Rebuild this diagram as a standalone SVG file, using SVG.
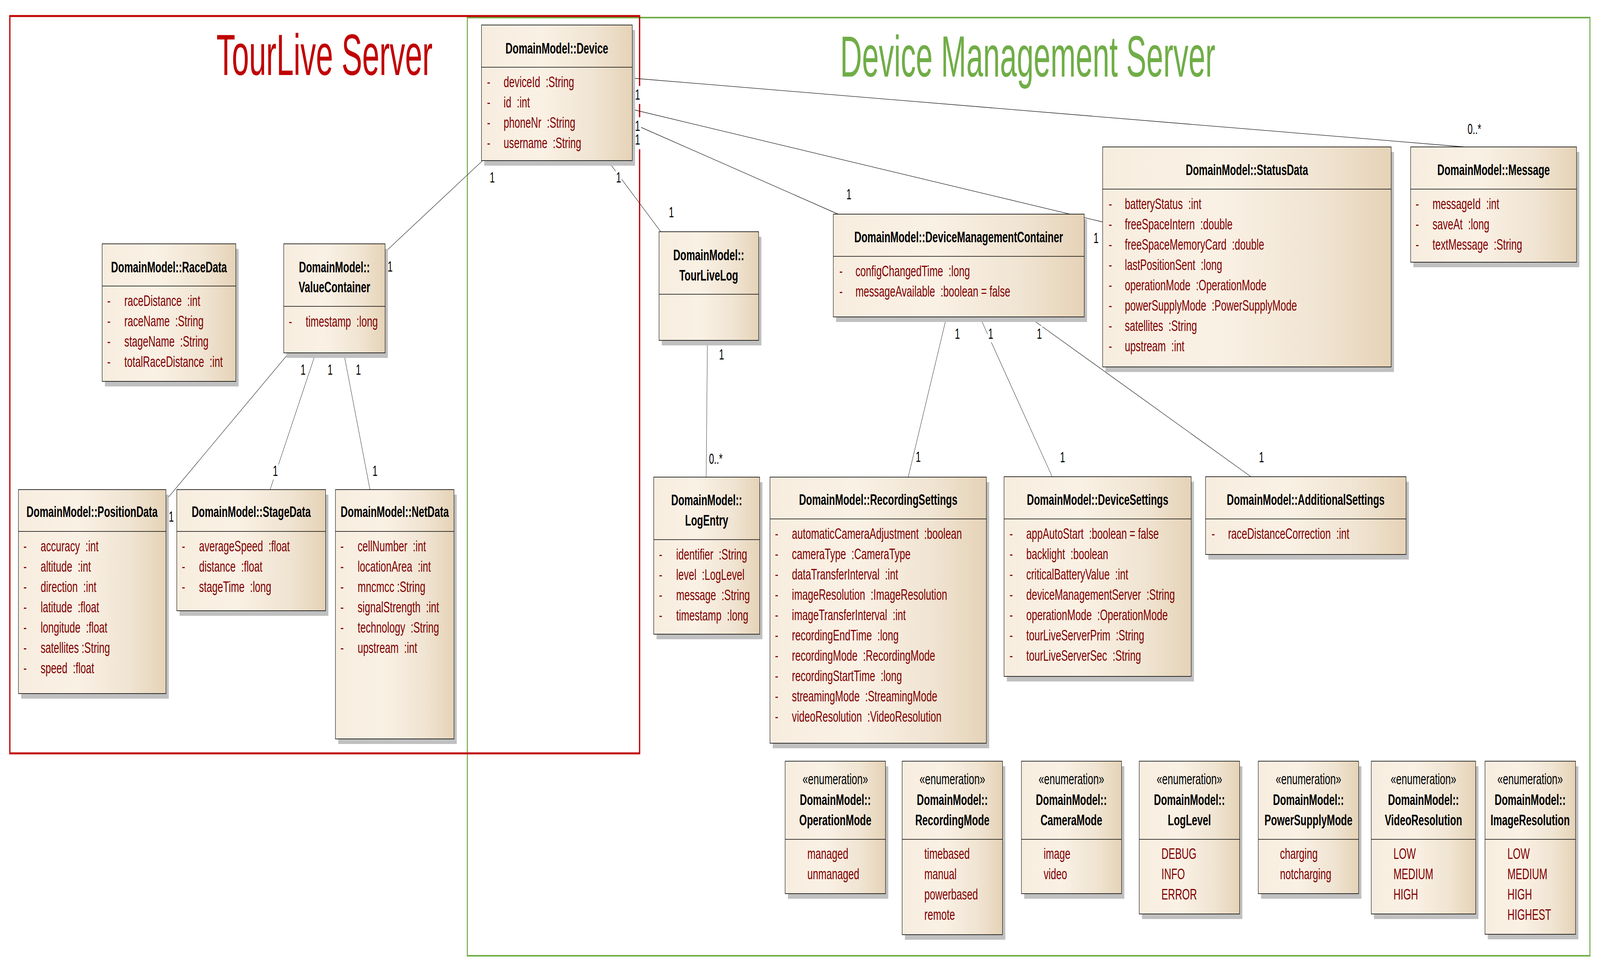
<svg xmlns="http://www.w3.org/2000/svg" width="6344" height="2508" viewBox="0 0 6344 2508" preserveAspectRatio="none">
<defs>
<linearGradient id="g" x1="0" y1="0" x2="1" y2="0">
<stop offset="0" stop-color="#F7EDDF"/>
<stop offset="0.4" stop-color="#FAF1E5"/>
<stop offset="0.75" stop-color="#F0E4D2"/>
<stop offset="1" stop-color="#E5D3B7"/>
</linearGradient>
<style>
svg{width:100%;height:100%}
.sh{fill:#C0C0C0}
.box{fill:url(#g);stroke:#000;stroke-width:1.6}
.sep{stroke:#000;stroke-width:1.6}
text{font-family:"Liberation Sans",Arial,sans-serif;font-size:39px}
.t{font-weight:bold;fill:#000;text-anchor:middle}
.st{fill:#000;text-anchor:middle}
.a{fill:#800000}
.lb{font-size:36px;fill:#000}
.lbg{fill:#fff}
.c{stroke:#1a1a1a;stroke-width:1.3;fill:none}
.big{font-size:148px}
</style>
</defs>
<rect width="6344" height="2508" fill="#fff"/>

<g id="frames">
<rect x="1853" y="45" width="4451" height="2401" fill="none" stroke="#70AD47" stroke-width="4"/>
<rect x="39" y="41" width="2497" height="1887" fill="none" stroke="#C00000" stroke-width="5"/>
<text class="big" x="858" y="192" fill="#C00000" textLength="857" lengthAdjust="spacingAndGlyphs">TourLive Server</text>
<text class="big" x="3331" y="196" fill="#70AD47" textLength="1488" lengthAdjust="spacingAndGlyphs">Device Management Server</text>
</g>

<g id="connectors">
<line class="c" x1="1912" y1="412" x2="1527" y2="645"/>
<line class="c" x1="1146" y1="903" x2="658" y2="1280"/>
<line class="c" x1="1252" y1="903" x2="1071" y2="1253"/>
<line class="c" x1="1363" y1="903" x2="1467" y2="1253"/>
<line class="c" x1="2411" y1="412" x2="2620" y2="593"/>
<line class="c" x1="2805" y1="871" x2="2800" y2="1221"/>
<line class="c" x1="2507" y1="200" x2="5807" y2="376"/>
<line class="c" x1="2507" y1="280" x2="4372" y2="568"/>
<line class="c" x1="2507" y1="316" x2="3323" y2="548"/>
<line class="c" x1="3753" y1="811" x2="3601" y2="1221"/>
<line class="c" x1="3885" y1="811" x2="4172" y2="1220"/>
<line class="c" x1="4079" y1="811" x2="4960" y2="1220"/>
</g>

<g id="labels">
<rect class="lbg" x="1940" y="434" width="24" height="42"/><text class="lb" x="1942" y="467">1</text>
<rect class="lbg" x="1535" y="662" width="24" height="42"/><text class="lb" x="1537" y="695">1</text>
<rect class="lbg" x="1190" y="926" width="24" height="42"/><text class="lb" x="1192" y="959">1</text>
<rect class="lbg" x="1297" y="926" width="24" height="42"/><text class="lb" x="1299" y="959">1</text>
<rect class="lbg" x="1409" y="926" width="24" height="42"/><text class="lb" x="1411" y="959">1</text>
<rect class="lbg" x="667" y="1302" width="24" height="42"/><text class="lb" x="669" y="1335">1</text>
<rect class="lbg" x="1080" y="1185" width="24" height="42"/><text class="lb" x="1082" y="1218">1</text>
<rect class="lbg" x="1475" y="1185" width="24" height="42"/><text class="lb" x="1477" y="1218">1</text>
<rect class="lbg" x="2441" y="434" width="24" height="42"/><text class="lb" x="2443" y="467">1</text>
<rect class="lbg" x="2650" y="523" width="24" height="42"/><text class="lb" x="2652" y="556">1</text>
<rect class="lbg" x="2849" y="887" width="24" height="42"/><text class="lb" x="2851" y="920">1</text>
<rect class="lbg" x="2809" y="1154" width="62" height="42"/><text class="lb" x="2811" y="1187">0..*</text>
<rect class="lbg" x="2515" y="220" width="27" height="46"/><text class="lb" x="2518" y="255">1</text>
<rect class="lbg" x="2515" y="300" width="27" height="46"/><text class="lb" x="2518" y="335">1</text>
<rect class="lbg" x="2515" y="336" width="27" height="46"/><text class="lb" x="2518" y="370">1</text>
<rect class="lbg" x="3354" y="477" width="24" height="42"/><text class="lb" x="3356" y="510">1</text>
<rect class="lbg" x="4334" y="589" width="24" height="42"/><text class="lb" x="4336" y="622">1</text>
<rect class="lbg" x="5817" y="310" width="62" height="42"/><text class="lb" x="5819" y="343">0..*</text>
<rect class="lbg" x="3784" y="834" width="24" height="42"/><text class="lb" x="3786" y="867">1</text>
<rect class="lbg" x="3916" y="834" width="24" height="42"/><text class="lb" x="3918" y="867">1</text>
<rect class="lbg" x="4109" y="834" width="24" height="42"/><text class="lb" x="4111" y="867">1</text>
<rect class="lbg" x="3629" y="1149" width="24" height="42"/><text class="lb" x="3631" y="1182">1</text>
<rect class="lbg" x="4201" y="1150" width="24" height="42"/><text class="lb" x="4203" y="1183">1</text>
<rect class="lbg" x="4990" y="1150" width="24" height="42"/><text class="lb" x="4992" y="1183">1</text>
</g>

<g id="Device">
<rect class="sh" x="1920" y="77" width="598" height="347"/>
<rect class="box" x="1909" y="64" width="598" height="347"/>
<line class="sep" x1="1909" y1="172" x2="2507" y2="172"/>
<text class="t" x="2208" y="137">DomainModel::Device</text>
<text class="a" x="1931" y="223">-</text><text class="a" x="1997" y="223">deviceId&#160; :String</text>
<text class="a" x="1931" y="275">-</text><text class="a" x="1997" y="275">id&#160; :int</text>
<text class="a" x="1931" y="327">-</text><text class="a" x="1997" y="327">phoneNr&#160; :String</text>
<text class="a" x="1931" y="379">-</text><text class="a" x="1997" y="379">username&#160; :String</text>
</g>

<g id="RaceData">
<rect class="sh" x="416" y="637" width="530" height="352"/>
<rect class="box" x="405" y="624" width="530" height="352"/>
<line class="sep" x1="405" y1="732" x2="935" y2="732"/>
<text class="t" x="670" y="697">DomainModel::RaceData</text>
<text class="a" x="425" y="783">-</text><text class="a" x="493" y="783">raceDistance&#160; :int</text>
<text class="a" x="425" y="835">-</text><text class="a" x="493" y="835">raceName&#160; :String</text>
<text class="a" x="425" y="887">-</text><text class="a" x="493" y="887">stageName&#160; :String</text>
<text class="a" x="425" y="939">-</text><text class="a" x="493" y="939">totalRaceDistance&#160; :int</text>
</g>

<g id="ValueContainer">
<rect class="sh" x="1136" y="637" width="402" height="279"/>
<rect class="box" x="1125" y="624" width="402" height="279"/>
<line class="sep" x1="1125" y1="784" x2="1527" y2="784"/>
<text class="t" x="1326" y="697">DomainModel::</text>
<text class="t" x="1326" y="748">ValueContainer</text>
<text class="a" x="1145" y="836">-</text><text class="a" x="1212" y="836">timestamp&#160; :long</text>
</g>

<g id="PositionData">
<rect class="sh" x="84" y="1266" width="585" height="522"/>
<rect class="box" x="73" y="1253" width="585" height="522"/>
<line class="sep" x1="73" y1="1360" x2="658" y2="1360"/>
<text class="t" x="365" y="1323">DomainModel::PositionData</text>
<text class="a" x="93" y="1411">-</text><text class="a" x="161" y="1411">accuracy&#160; :int</text>
<text class="a" x="93" y="1463">-</text><text class="a" x="161" y="1463">altitude&#160; :int</text>
<text class="a" x="93" y="1515">-</text><text class="a" x="161" y="1515">direction&#160; :int</text>
<text class="a" x="93" y="1567">-</text><text class="a" x="161" y="1567">latitude&#160; :float</text>
<text class="a" x="93" y="1619">-</text><text class="a" x="161" y="1619">longitude&#160; :float</text>
<text class="a" x="93" y="1671">-</text><text class="a" x="161" y="1671">satellites :String</text>
<text class="a" x="93" y="1723">-</text><text class="a" x="161" y="1723">speed&#160; :float</text>
</g>

<g id="StageData">
<rect class="sh" x="712" y="1266" width="590" height="310"/>
<rect class="box" x="701" y="1253" width="590" height="310"/>
<line class="sep" x1="701" y1="1360" x2="1291" y2="1360"/>
<text class="t" x="996" y="1323">DomainModel::StageData</text>
<text class="a" x="721" y="1411">-</text><text class="a" x="789" y="1411">averageSpeed&#160; :float</text>
<text class="a" x="721" y="1463">-</text><text class="a" x="789" y="1463">distance&#160; :float</text>
<text class="a" x="721" y="1515">-</text><text class="a" x="789" y="1515">stageTime&#160; :long</text>
</g>

<g id="NetData">
<rect class="sh" x="1341" y="1266" width="470" height="638"/>
<rect class="box" x="1330" y="1253" width="470" height="638"/>
<line class="sep" x1="1330" y1="1360" x2="1800" y2="1360"/>
<text class="t" x="1565" y="1323">DomainModel::NetData</text>
<text class="a" x="1350" y="1411">-</text><text class="a" x="1418" y="1411">cellNumber&#160; :int</text>
<text class="a" x="1350" y="1463">-</text><text class="a" x="1418" y="1463">locationArea&#160; :int</text>
<text class="a" x="1350" y="1515">-</text><text class="a" x="1418" y="1515">mncmcc :String</text>
<text class="a" x="1350" y="1567">-</text><text class="a" x="1418" y="1567">signalStrength&#160; :int</text>
<text class="a" x="1350" y="1619">-</text><text class="a" x="1418" y="1619">technology&#160; :String</text>
<text class="a" x="1350" y="1671">-</text><text class="a" x="1418" y="1671">upstream&#160; :int</text>
</g>

<g id="TourLiveLog">
<rect class="sh" x="2624" y="606" width="395" height="278"/>
<rect class="box" x="2613" y="593" width="395" height="278"/>
<line class="sep" x1="2613" y1="753" x2="3008" y2="753"/>
<text class="t" x="2810" y="666">DomainModel::</text>
<text class="t" x="2810" y="718">TourLiveLog</text>
</g>

<g id="LogEntry">
<rect class="sh" x="2603" y="1234" width="420" height="402"/>
<rect class="box" x="2592" y="1221" width="420" height="402"/>
<line class="sep" x1="2592" y1="1381" x2="3012" y2="1381"/>
<text class="t" x="2802" y="1293">DomainModel::</text>
<text class="t" x="2802" y="1345">LogEntry</text>
<text class="a" x="2613" y="1432">-</text><text class="a" x="2681" y="1432">identifier&#160; :String</text>
<text class="a" x="2613" y="1484">-</text><text class="a" x="2681" y="1484">level&#160; :LogLevel</text>
<text class="a" x="2613" y="1536">-</text><text class="a" x="2681" y="1536">message&#160; :String</text>
<text class="a" x="2613" y="1588">-</text><text class="a" x="2681" y="1588">timestamp&#160; :long</text>
</g>

<g id="DeviceManagementContainer">
<rect class="sh" x="3315" y="561" width="995" height="263"/>
<rect class="box" x="3304" y="548" width="995" height="263"/>
<line class="sep" x1="3304" y1="656" x2="4299" y2="656"/>
<text class="t" x="3801" y="620">DomainModel::DeviceManagementContainer</text>
<text class="a" x="3328" y="707">-</text><text class="a" x="3392" y="707">configChangedTime&#160; :long</text>
<text class="a" x="3328" y="759">-</text><text class="a" x="3392" y="759">messageAvailable&#160; :boolean = false</text>
</g>

<g id="StatusData">
<rect class="sh" x="4383" y="389" width="1144" height="563"/>
<rect class="box" x="4372" y="376" width="1144" height="563"/>
<line class="sep" x1="4372" y1="484" x2="5516" y2="484"/>
<text class="t" x="4944" y="448">DomainModel::StatusData</text>
<text class="a" x="4396" y="535">-</text><text class="a" x="4460" y="535">batteryStatus&#160; :int</text>
<text class="a" x="4396" y="587">-</text><text class="a" x="4460" y="587">freeSpaceIntern&#160; :double</text>
<text class="a" x="4396" y="639">-</text><text class="a" x="4460" y="639">freeSpaceMemoryCard&#160; :double</text>
<text class="a" x="4396" y="691">-</text><text class="a" x="4460" y="691">lastPositionSent&#160; :long</text>
<text class="a" x="4396" y="743">-</text><text class="a" x="4460" y="743">operationMode&#160; :OperationMode</text>
<text class="a" x="4396" y="795">-</text><text class="a" x="4460" y="795">powerSupplyMode&#160; :PowerSupplyMode</text>
<text class="a" x="4396" y="847">-</text><text class="a" x="4460" y="847">satellites&#160; :String</text>
<text class="a" x="4396" y="899">-</text><text class="a" x="4460" y="899">upstream&#160; :int</text>
</g>

<g id="Message">
<rect class="sh" x="5604" y="389" width="658" height="295"/>
<rect class="box" x="5593" y="376" width="658" height="295"/>
<line class="sep" x1="5593" y1="484" x2="6251" y2="484"/>
<text class="t" x="5922" y="448">DomainModel::Message</text>
<text class="a" x="5613" y="535">-</text><text class="a" x="5680" y="535">messageId&#160; :int</text>
<text class="a" x="5613" y="587">-</text><text class="a" x="5680" y="587">saveAt&#160; :long</text>
<text class="a" x="5613" y="639">-</text><text class="a" x="5680" y="639">textMessage&#160; :String</text>
</g>

<g id="RecordingSettings">
<rect class="sh" x="3064" y="1234" width="858" height="681"/>
<rect class="box" x="3053" y="1221" width="858" height="681"/>
<line class="sep" x1="3053" y1="1328" x2="3911" y2="1328"/>
<text class="t" x="3482" y="1292">DomainModel::RecordingSettings</text>
<text class="a" x="3073" y="1379">-</text><text class="a" x="3140" y="1379">automaticCameraAdjustment&#160; :boolean</text>
<text class="a" x="3073" y="1431">-</text><text class="a" x="3140" y="1431">cameraType&#160; :CameraType</text>
<text class="a" x="3073" y="1483">-</text><text class="a" x="3140" y="1483">dataTransferInterval&#160; :int</text>
<text class="a" x="3073" y="1535">-</text><text class="a" x="3140" y="1535">imageResolution&#160; :ImageResolution</text>
<text class="a" x="3073" y="1587">-</text><text class="a" x="3140" y="1587">imageTransferInterval&#160; :int</text>
<text class="a" x="3073" y="1639">-</text><text class="a" x="3140" y="1639">recordingEndTime&#160; :long</text>
<text class="a" x="3073" y="1691">-</text><text class="a" x="3140" y="1691">recordingMode&#160; :RecordingMode</text>
<text class="a" x="3073" y="1743">-</text><text class="a" x="3140" y="1743">recordingStartTime&#160; :long</text>
<text class="a" x="3073" y="1795">-</text><text class="a" x="3140" y="1795">streamingMode&#160; :StreamingMode</text>
<text class="a" x="3073" y="1847">-</text><text class="a" x="3140" y="1847">videoResolution&#160; :VideoResolution</text>
</g>

<g id="DeviceSettings">
<rect class="sh" x="3992" y="1233" width="742" height="511"/>
<rect class="box" x="3981" y="1220" width="742" height="511"/>
<line class="sep" x1="3981" y1="1328" x2="4723" y2="1328"/>
<text class="t" x="4352" y="1292">DomainModel::DeviceSettings</text>
<text class="a" x="4003" y="1379">-</text><text class="a" x="4069" y="1379">appAutoStart&#160; :boolean = false</text>
<text class="a" x="4003" y="1431">-</text><text class="a" x="4069" y="1431">backlight&#160; :boolean</text>
<text class="a" x="4003" y="1483">-</text><text class="a" x="4069" y="1483">criticalBatteryValue&#160; :int</text>
<text class="a" x="4003" y="1535">-</text><text class="a" x="4069" y="1535">deviceManagementServer&#160; :String</text>
<text class="a" x="4003" y="1587">-</text><text class="a" x="4069" y="1587">operationMode&#160; :OperationMode</text>
<text class="a" x="4003" y="1639">-</text><text class="a" x="4069" y="1639">tourLiveServerPrim&#160; :String</text>
<text class="a" x="4003" y="1691">-</text><text class="a" x="4069" y="1691">tourLiveServerSec&#160; :String</text>
</g>

<g id="AdditionalSettings">
<rect class="sh" x="4791" y="1233" width="795" height="199"/>
<rect class="box" x="4780" y="1220" width="795" height="199"/>
<line class="sep" x1="4780" y1="1328" x2="5575" y2="1328"/>
<text class="t" x="5177" y="1292">DomainModel::AdditionalSettings</text>
<text class="a" x="4804" y="1379">-</text><text class="a" x="4869" y="1379">raceDistanceCorrection&#160; :int</text>
</g>

<g id="OperationMode">
<rect class="sh" x="3124" y="1961" width="398" height="339"/>
<rect class="box" x="3113" y="1948" width="398" height="339"/>
<line class="sep" x1="3113" y1="2148" x2="3511" y2="2148"/>
<text class="st" x="3312" y="2007">«enumeration»</text>
<text class="t" x="3312" y="2060">DomainModel::</text>
<text class="t" x="3312" y="2112">OperationMode</text>
<text class="a" x="3201" y="2198">managed</text>
<text class="a" x="3201" y="2250">unmanaged</text>
</g>

<g id="RecordingMode">
<rect class="sh" x="3588" y="1961" width="398" height="444"/>
<rect class="box" x="3577" y="1948" width="398" height="444"/>
<line class="sep" x1="3577" y1="2148" x2="3975" y2="2148"/>
<text class="st" x="3776" y="2007">«enumeration»</text>
<text class="t" x="3776" y="2060">DomainModel::</text>
<text class="t" x="3776" y="2112">RecordingMode</text>
<text class="a" x="3665" y="2198">timebased</text>
<text class="a" x="3665" y="2250">manual</text>
<text class="a" x="3665" y="2302">powerbased</text>
<text class="a" x="3665" y="2354">remote</text>
</g>

<g id="CameraMode">
<rect class="sh" x="4061" y="1961" width="397" height="339"/>
<rect class="box" x="4050" y="1948" width="397" height="339"/>
<line class="sep" x1="4050" y1="2148" x2="4447" y2="2148"/>
<text class="st" x="4248" y="2007">«enumeration»</text>
<text class="t" x="4248" y="2060">DomainModel::</text>
<text class="t" x="4248" y="2112">CameraMode</text>
<text class="a" x="4138" y="2198">image</text>
<text class="a" x="4138" y="2250">video</text>
</g>

<g id="LogLevel">
<rect class="sh" x="4528" y="1961" width="398" height="391"/>
<rect class="box" x="4517" y="1948" width="398" height="391"/>
<line class="sep" x1="4517" y1="2148" x2="4915" y2="2148"/>
<text class="st" x="4716" y="2007">«enumeration»</text>
<text class="t" x="4716" y="2060">DomainModel::</text>
<text class="t" x="4716" y="2112">LogLevel</text>
<text class="a" x="4605" y="2198">DEBUG</text>
<text class="a" x="4605" y="2250">INFO</text>
<text class="a" x="4605" y="2302">ERROR</text>
</g>

<g id="PowerSupplyMode">
<rect class="sh" x="5000" y="1961" width="398" height="339"/>
<rect class="box" x="4989" y="1948" width="398" height="339"/>
<line class="sep" x1="4989" y1="2148" x2="5387" y2="2148"/>
<text class="st" x="5188" y="2007">«enumeration»</text>
<text class="t" x="5188" y="2060">DomainModel::</text>
<text class="t" x="5188" y="2112">PowerSupplyMode</text>
<text class="a" x="5075" y="2198">charging</text>
<text class="a" x="5075" y="2250">notcharging</text>
</g>

<g id="VideoResolution">
<rect class="sh" x="5448" y="1961" width="414" height="391"/>
<rect class="box" x="5437" y="1948" width="414" height="391"/>
<line class="sep" x1="5437" y1="2148" x2="5851" y2="2148"/>
<text class="st" x="5644" y="2007">«enumeration»</text>
<text class="t" x="5644" y="2060">DomainModel::</text>
<text class="t" x="5644" y="2112">VideoResolution</text>
<text class="a" x="5525" y="2198">LOW</text>
<text class="a" x="5525" y="2250">MEDIUM</text>
<text class="a" x="5525" y="2302">HIGH</text>
</g>

<g id="ImageResolution">
<rect class="sh" x="5899" y="1961" width="359" height="443"/>
<rect class="box" x="5888" y="1948" width="359" height="443"/>
<line class="sep" x1="5888" y1="2148" x2="6247" y2="2148"/>
<text class="st" x="6067" y="2007">«enumeration»</text>
<text class="t" x="6067" y="2060">DomainModel::</text>
<text class="t" x="6067" y="2112">ImageResolution</text>
<text class="a" x="5977" y="2198">LOW</text>
<text class="a" x="5977" y="2250">MEDIUM</text>
<text class="a" x="5977" y="2302">HIGH</text>
<text class="a" x="5977" y="2354">HIGHEST</text>
</g>
</svg>
